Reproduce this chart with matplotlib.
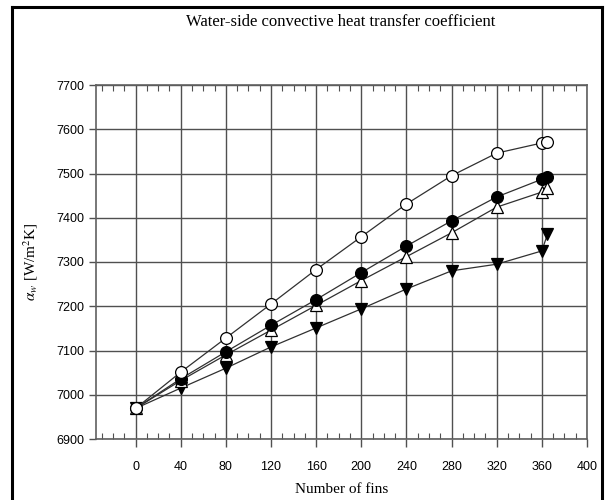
import matplotlib
matplotlib.use("Agg")
import matplotlib.pyplot as plt
import matplotlib.ticker as mticker
from matplotlib.lines import Line2D

plt.rcParams["mathtext.fontset"] = "stix"

# Number of fins and heat transfer coefficient for each configuration
fins = [0, 40, 80, 120, 160, 200, 240, 280, 320, 360, 365]
alpha_open_circle = [6969, 7051, 7128, 7205, 7283, 7357, 7431, 7495, 7546, 7569, 7571]
alpha_filled_circle = [6969, 7036, 7097, 7157, 7215, 7276, 7336, 7393, 7447, 7487, 7492]
alpha_triangle_up = [6969, 7032, 7090, 7146, 7202, 7258, 7312, 7366, 7424, 7458, 7467]
alpha_triangle_down = [6969, 7015, 7060, 7108, 7151, 7194, 7239, 7280, 7295, 7325, 7363]

fig = plt.figure(figsize=(6.05, 5.0), dpi=100)
ax = fig.add_axes([96 / 605, 1 - 439 / 500, (587 - 96) / 605, (439 - 85) / 500])

line_kw = dict(color="#303030", linewidth=0.9, markeredgecolor="black",
               markeredgewidth=0.9, markersize=8.5)
ax.plot(fins, alpha_triangle_down, marker="v", markerfacecolor="black", **line_kw)
ax.plot(fins, alpha_triangle_up, marker="^", markerfacecolor="white", **line_kw)
ax.plot(fins, alpha_filled_circle, marker="o", markerfacecolor="black", **line_kw)
ax.plot(fins, alpha_open_circle, marker="o", markerfacecolor="white", **line_kw)

ax.set_xlim(-35, 400)
ax.set_ylim(6900, 7700)
ax.xaxis.set_major_locator(mticker.MultipleLocator(40))
ax.xaxis.set_minor_locator(mticker.MultipleLocator(10))
ax.yaxis.set_major_locator(mticker.MultipleLocator(100))

ax.grid(which="major", color="#505050", linewidth=1.0)
ax.set_axisbelow(True)

for s in ax.spines.values():
    s.set_color("#606060")
    s.set_linewidth(1.2)

ax.tick_params(axis="x", which="major", direction="out", length=6, width=1,
               color="#505050", labelsize=9, pad=10)
ax.tick_params(axis="x", which="minor", direction="in", length=4, width=0.8,
               color="#505050", top=True)
ax.tick_params(axis="y", which="major", direction="out", length=5, width=1,
               color="#505050", labelsize=9)
for lab in ax.get_xticklabels() + ax.get_yticklabels():
    lab.set_fontfamily("Liberation Sans")

fig.text(341 / 605, 1 - 22 / 500, "Water-side convective heat transfer coefficient",
         family="Liberation Serif", fontsize=12, ha="center", va="center")
ax.set_xlabel("Number of fins", family="Liberation Serif", fontsize=11, labelpad=7)
ax.set_ylabel(r"$\alpha_w$ [W/m$^2$K]", family="Liberation Serif", fontsize=11, labelpad=12)

# black frame around the whole figure
frame_kw = dict(color="black", linewidth=2.2, transform=fig.transFigure)
x0, x1, y1 = 12 / 605, 602 / 605, 1 - 7 / 500
fig.add_artist(Line2D([x0, x0], [0, y1], **frame_kw))
fig.add_artist(Line2D([x0, x1], [y1, y1], **frame_kw))
fig.add_artist(Line2D([x1, x1], [0, y1], **frame_kw))

fig.savefig("out.png", dpi=100)
